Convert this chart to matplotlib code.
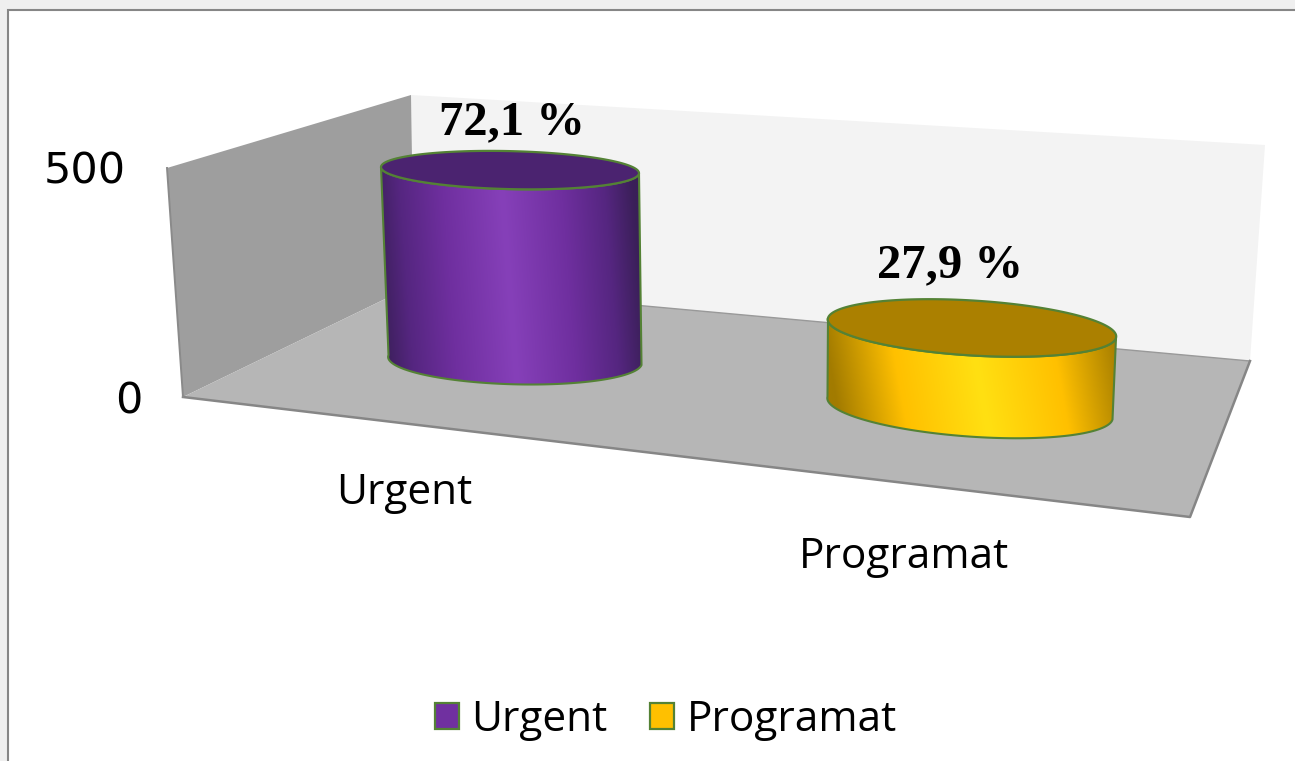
import numpy as np
import matplotlib
matplotlib.use("Agg")
import matplotlib.pyplot as plt
from matplotlib.colors import LinearSegmentedColormap
from matplotlib.patches import Polygon, Rectangle, Patch

# data
categories = ["Urgent", "Programat"]
values = [404, 156]
percent_labels = ["72,1 %", "27,9 %"]
y_ticks = [0, 500]

# look
EDGE = "#548235"
GREY_LINE = "#868686"
FONT = "Open Sans"
face_colors = ["#7030a0", "#ffc000"]
top_colors = ["#4b2370", "#ab8000"]
gradients = [
    [(0.0, "#3a1f58"), (0.22, "#552680"), (0.55, "#6f2f9f"), (1.0, "#8640b9")],
    [(0.0, "#a27b00"), (0.45, "#ffc000"), (1.0, "#ffe012")],
]

# layout, in pixels of the picture
wall_back_top = (411, 95)
wall_back_bottom = (414, 285)
wall_left_top = (167, 168)
corner_left = (183, 397)
corner_right = (1190, 517)
floor_right = (1250, 361)
wall_right_top = (1265, 145)

px_per_unit = [0.470, 0.513]        # perspective makes the near one bigger
base_centre = [(515, 360), (970, 408)]
base_u = [(126.5, 5), (142.5, 11.5)]
base_v = [(-10, 24), (-8, 28)]
top_shift = [-5, 2]
top_u = [(129, 3), (144, 10)]
top_v = [(0, 19), (-8, 27)]
peak_x = [(500, 517), (968, 990)]    # highlight position at top and bottom
half_width = [132, 147]
label_pos = [(512, 122), (950, 265)]
cat_pos = [(404, 493), (904, 557)]


def ellipse(c, u, v, t):
    return np.column_stack([c[0] + u[0] * np.cos(t) + v[0] * np.sin(t),
                            c[1] + u[1] * np.cos(t) + v[1] * np.sin(t)])


fig = plt.figure(figsize=(12.95, 7.61), dpi=100, facecolor="#efefef")
ax = fig.add_axes([0, 0, 1, 1])
ax.axis("off")

ax.add_patch(Rectangle((8, 10), 1300, 770, facecolor="white", edgecolor=GREY_LINE, linewidth=1.5, zorder=0))

# walls and floor
ax.add_patch(Polygon([wall_back_top, wall_right_top, floor_right, wall_back_bottom],
                     facecolor="#f3f3f3", edgecolor="none", zorder=1))
ax.add_patch(Polygon([wall_left_top, wall_back_top, wall_back_bottom, corner_left],
                     facecolor="#9e9e9e", edgecolor="none", zorder=1))
ax.add_patch(Polygon([corner_left, wall_back_bottom, floor_right, corner_right],
                     facecolor="#b6b6b6", edgecolor="none", zorder=2))
ax.plot(*zip(wall_back_bottom, floor_right), color="#999999", lw=1.0, zorder=2)
ax.plot(*zip(corner_left, corner_right, floor_right), color=GREY_LINE, lw=1.8, zorder=2)
ax.plot(*zip(corner_left, wall_left_top), color="#8a8a8a", lw=1.4, zorder=2)

# y axis labels
for tick in y_ticks:
    frac = tick / y_ticks[-1]
    x = corner_left[0] + (wall_left_top[0] - corner_left[0]) * frac - 41
    y = corner_left[1] + (wall_left_top[1] - corner_left[1]) * frac
    ax.text(x, y + 4, str(tick), ha="right", va="center", fontsize=31, family="DejaVu Sans", color="black")

# cylinders
front = np.linspace(np.pi, 0, 80)
full = np.linspace(0, 2 * np.pi, 160)

for i in range(len(values)):
    height = values[i] * px_per_unit[i]
    base_c = base_centre[i]
    top_c = (base_c[0] + top_shift[i], base_c[1] - height)

    top_arc = ellipse(top_c, top_u[i], top_v[i], front)
    base_arc = ellipse(base_c, base_u[i], base_v[i], front[::-1])[::-1]
    body = np.vstack([top_arc, base_arc[::-1]])

    # shading runs across the cylinder, the highlight leans a little
    xmin, xmax = body[:, 0].min() - 2, body[:, 0].max() + 2
    ymin, ymax = body[:, 1].min() - 2, body[:, 1].max() + 2
    xx, yy = np.meshgrid(np.linspace(xmin, xmax, 400), np.linspace(ymin, ymax, 200))
    peak = peak_x[i][0] + (peak_x[i][1] - peak_x[i][0]) * (yy - ymin) / (ymax - ymin)
    shade = 1 - np.clip(np.abs(xx - peak) / half_width[i], 0, 1)
    cmap = LinearSegmentedColormap.from_list("c%d" % i, gradients[i])
    img = ax.imshow(shade, extent=(xmin, xmax, ymax, ymin), cmap=cmap, vmin=0, vmax=1,
                    aspect="auto", zorder=3, interpolation="bilinear")
    outline = Polygon(body, closed=True, facecolor="none", edgecolor=EDGE, linewidth=1.5, zorder=4)
    ax.add_patch(outline)
    img.set_clip_path(outline)

    ax.add_patch(Polygon(ellipse(top_c, top_u[i], top_v[i], full), closed=True,
                         facecolor=top_colors[i], edgecolor=EDGE, linewidth=1.6, zorder=5))

    ax.text(label_pos[i][0], label_pos[i][1], percent_labels[i], ha="center", va="center",
            fontsize=35, fontweight="bold", family="Liberation Serif", color="black", zorder=6)
    ax.text(cat_pos[i][0], cat_pos[i][1], categories[i], ha="center", va="center",
            fontsize=30.5, family=FONT, color="black", zorder=6)

handles = [Patch(facecolor=face_colors[i], edgecolor=EDGE, linewidth=1.6, label=categories[i])
           for i in range(len(categories))]
ax.legend(handles=handles, ncol=2, loc="center", bbox_to_anchor=(666 / 1295, 1 - 720 / 761),
          frameon=False, prop={"family": FONT, "size": 30.5}, handlelength=0.56, handleheight=0.56,
          handletextpad=0.3, columnspacing=1.0, borderpad=0, labelcolor="black")

ax.set_xlim(0, 1295)
ax.set_ylim(761, 0)

fig.savefig("out.png", dpi=100, facecolor=fig.get_facecolor())
